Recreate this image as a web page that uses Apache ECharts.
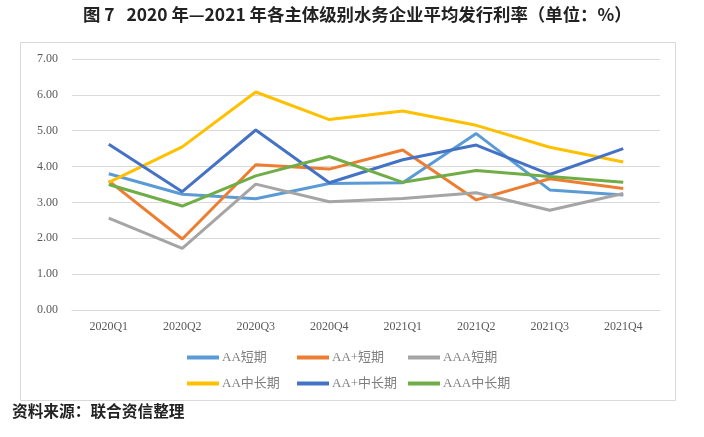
<!DOCTYPE html>
<html><head><meta charset="utf-8">
<script src="https://cdn.jsdelivr.net/npm/echarts@6/dist/echarts.min.js"></script>
<style>html,body{margin:0;padding:0;background:#fff}#c{width:704px;height:437px}</style>
</head><body><div id="c"></div>
<script>
const categories = ['2020Q1','2020Q2','2020Q3','2020Q4','2021Q1','2021Q2','2021Q3','2021Q4'];
const seriesNames = ['AA短期','AA+短期','AAA短期','AA中长期','AA+中长期','AAA中长期'];
const aaShort     = [3.80, 3.23, 3.10, 3.53, 3.55, 4.92, 3.35, 3.21];
const aapShort    = [3.60, 1.98, 4.05, 3.93, 4.46, 3.07, 3.66, 3.39];
const aaaShort    = [2.56, 1.72, 3.51, 3.02, 3.11, 3.27, 2.78, 3.25];
const aaLong      = [3.56, 4.55, 6.08, 5.31, 5.55, 5.15, 4.54, 4.13];
const aapLong     = [4.62, 3.30, 5.02, 3.55, 4.19, 4.60, 3.78, 4.50];
const aaaLong     = [3.50, 2.90, 3.74, 4.28, 3.56, 3.89, 3.72, 3.56];
const yTicks = ['0.00','1.00','2.00','3.00','4.00','5.00','6.00','7.00'];

const colors = ['#5B9BD5','#ED7D31','#A5A5A5','#FFC000','#4472C4','#70AD47'];
const values = [aaShort, aapShort, aaaShort, aaLong, aapLong, aaaLong];
const serif = '"Liberation Serif","Noto Sans CJK SC",serif';

const legendPos = [[187,351],[297,351],[408,351],[187,377],[297,377],[408,377]];
const legends = seriesNames.map((n,i)=>({
  data:[n], left:legendPos[i][0], top:legendPos[i][1],
  itemWidth:32, itemHeight:4, itemGap:0, padding:0,
  icon:'rect',
  textStyle:{color:'#7f7f7f', fontSize:13, fontFamily:serif, padding:[0,0,0,-2]}
}));

const chart = echarts.init(document.getElementById('c'));
chart.setOption({
  animation:false,
  backgroundColor:'#fff',
  color:colors,
  title:{
    text:'图 7   2020 年—2021 年各主体级别水务企业平均发行利率（单位：%）',
    left:83, top:6, padding:0,
    textStyle:{fontSize:17.4, fontWeight:'bold', color:'#222', fontFamily:'"Noto Sans CJK SC","Liberation Serif",sans-serif'}
  },
  graphic:[
    {type:'rect', shape:{x:20.5,y:42.5,width:655,height:358}, style:{fill:'none', stroke:'#d9d9d9', lineWidth:1}, silent:true},
    {type:'text', left:12, top:403, style:{text:'资料来源：联合资信整理', fill:'#222', font:'bold 15.7px "Noto Sans CJK SC", sans-serif'}}
  ],
  legend:legends,
  grid:{left:72, right:44, top:59, bottom:127, containLabel:false},
  xAxis:{
    type:'category', data:categories, boundaryGap:true,
    axisLine:{show:true, lineStyle:{color:'#d9d9d9'}},
    axisTick:{show:false},
    axisLabel:{color:'#595959', fontSize:12, fontFamily:serif, margin:11}
  },
  yAxis:{
    type:'value', min:0, max:7, interval:1,
    axisLine:{show:false}, axisTick:{show:false},
    splitLine:{lineStyle:{color:'#d9d9d9'}},
    axisLabel:{color:'#595959', fontSize:12, fontFamily:serif, margin:14,
      formatter:(v)=>yTicks[Math.round(v)]}
  },
  series:seriesNames.map((n,i)=>({
    name:n, type:'line', data:values[i], symbol:'none',
    lineStyle:{width:3, color:colors[i]}, itemStyle:{color:colors[i]}
  }))
});
</script></body></html>
